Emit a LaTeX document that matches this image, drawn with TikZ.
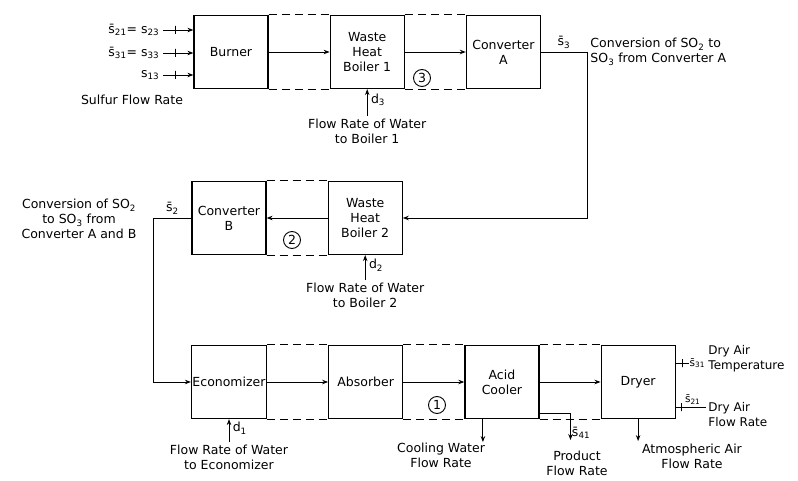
\documentclass[tikz,border=0pt]{standalone}
\usepackage{fontspec}
\setmainfont{DejaVu Sans}
\usetikzlibrary{positioning,arrows.meta}
\newcommand{\flowvar}[1]{\={s}\textsubscript{#1}}
\newcommand{\watervar}[1]{d\textsubscript{#1}}

\begin{document}
\begin{tikzpicture}[
  x=1pt, y=-1pt,
  >={Stealth[length=6pt,width=4.5pt]},
  line width=0.95pt,
  node distance=61pt,
  font=\fontsize{12.5}{15}\selectfont,
  unit/.style={draw, line width=1.2pt, minimum width=74pt, minimum height=73pt, align=center, inner sep=1pt},
  link/.style={dash pattern=on 8pt off 5pt},
  loopno/.style={circle, draw, line width=0.9pt, inner sep=0pt, minimum size=17pt},
  tick/.style={draw, line width=0.9pt, inner sep=0pt, minimum width=0pt, minimum height=8pt},
  note/.style={align=center, inner sep=1pt},
  small/.style={font=\fontsize{10.5}{12}\selectfont, inner sep=0.5pt}
]
  \useasboundingbox (0,0) rectangle (798,481);

  \node[unit] (burner) at (231,52) {Burner};
  \node[unit,right=of burner] (whb1) {Waste\\Heat\\Boiler 1};
  \node[unit,right=of whb1] (conva) {Converter\\A};

  \node[unit] (convb) at (229,218) {Converter\\B};
  \node[unit,right=of convb] (whb2) {Waste\\Heat\\Boiler 2};

  \node[unit] (econ) at (229,382) {Economizer};
  \node[unit,right=of econ] (absorber) {Absorber};
  \node[unit,right=of absorber] (cooler) {Acid\\Cooler};
  \node[unit,right=of cooler] (dryer) {Dryer};

  \node[loopno] (loop3) at (422,78) {3};
  \node[loopno] (loop2) at (292,240) {2};
  \node[loopno] (loop1) at (437,405) {1};

  \draw[link]
    (burner.north east) -- (whb1.north west) (burner.south east) -- (whb1.south west)
    (whb1.north east) -- (conva.north west) (whb1.south east) -- (conva.south west)
    (convb.north east) -- (whb2.north west) (convb.south east) -- (whb2.south west)
    (econ.north east) -- (absorber.north west) (econ.south east) -- (absorber.south west)
    (absorber.north east) -- (cooler.north west) (absorber.south east) -- (cooler.south west)
    (cooler.north east) -- (dryer.north west) (cooler.south east) -- (dryer.south west);

  \node[anchor=east] (s21) at (163,30) {\flowvar{21}= s\textsubscript{23}};
  \node[anchor=east] (s31) at (163,53) {\flowvar{31}= s\textsubscript{33}};
  \node[anchor=east] (s13) at (163,75) {s\textsubscript{13}};
  \node (sulfur) at (132,100) {Sulfur Flow Rate};
  \draw[->] (s21.east) -- node[tick,pos=0.4]{} (s21.east -| burner.west);
  \draw[->] (s31.east) -- node[tick,pos=0.4]{} (s31.east -| burner.west);
  \draw[->] (s13.east) -- node[tick,pos=0.4]{} (s13.east -| burner.west);

  \draw[->] (burner) -- (whb1);
  \draw[->] (whb1) -- (conva);
  \draw[->] (conva.east) -- node[above]{\flowvar{3}} ++(46,0) |- (whb2.east);
  \node[anchor=north west, align=left, inner sep=1pt] (convalbl) at (589,37)
    {Conversion of SO\textsubscript{2} to\\SO\textsubscript{3} from Converter A};

  \draw[->] (whb2) -- (convb);
  \draw[->] (convb.west) -- node[above]{\flowvar{2}} ++(-38,0) |- (econ.west);
  \node[note] (convblbl) at (79,219) {Conversion of SO\textsubscript{2}\\to SO\textsubscript{3} from\\Converter A and B};

  \draw[->] (econ) -- (absorber);
  \draw[->] (absorber) -- (cooler);
  \draw[->] (cooler) -- (dryer);

  \coordinate[below=27pt of whb1.south] (w3);
  \draw[->] (w3) -- node[right,pos=0.6]{\watervar{3}} (whb1.south);
  \node[note,below=1pt of w3] (w3lbl) {Flow Rate of Water\\to Boiler 1};

  \coordinate[below=25pt of whb2.south] (w2);
  \draw[->] (w2) -- node[right,pos=0.6]{\watervar{2}} (whb2.south);
  \node[note,below=1pt of w2] (w2lbl) {Flow Rate of Water\\to Boiler 2};

  \coordinate[below=23pt of econ.south] (w1);
  \draw[->] (w1) -- node[right,pos=0.6]{\watervar{1}} (econ.south);
  \node[note,below=1pt of w1] (w1lbl) {Flow Rate of Water\\to Economizer};

  \draw[->] ([xshift=-19pt]cooler.south) -- ++(0,23) coordinate (cw);
  \node[note] (cwlbl) at (441,455) {Cooling Water\\Flow Rate};

  \draw[->] ([yshift=-31pt]cooler.east) -- ++(31,0) -- ++(0,27) coordinate (prod);
  \node[anchor=west, inner sep=1pt] at ([yshift=7pt]prod) {\flowvar{41}};
  \node[note] (prodlbl) at (577,463) {Product\\Flow Rate};

  \draw[->] (dryer.south) -- ++(0,22) coordinate (atm);
  \node[note] (atmlbl) at (692,456) {Atmospheric Air\\Flow Rate};

  \draw ([yshift=19pt]dryer.east) -- node[tick,pos=0.5]{} ++(13,0) coordinate (dat);
  \node[small, anchor=west] at (dat) {\flowvar{31}};
  \node[anchor=west, align=left, inner sep=1pt, font=\fontsize{12}{15}\selectfont] (datlbl) at (707,359) {Dry Air\\Temperature};
  \draw ([yshift=-25pt]dryer.east) -- node[tick,pos=0.2]{} ++(30,0) coordinate (daf);
  \node[small, anchor=south] at ([xshift=-13pt,yshift=2pt]daf) {\flowvar{21}};
  \node[anchor=west, align=left, inner sep=1pt, font=\fontsize{12}{15}\selectfont] (daflbl) at (707,415) {Dry Air\\Flow Rate};
\end{tikzpicture}
\end{document}
